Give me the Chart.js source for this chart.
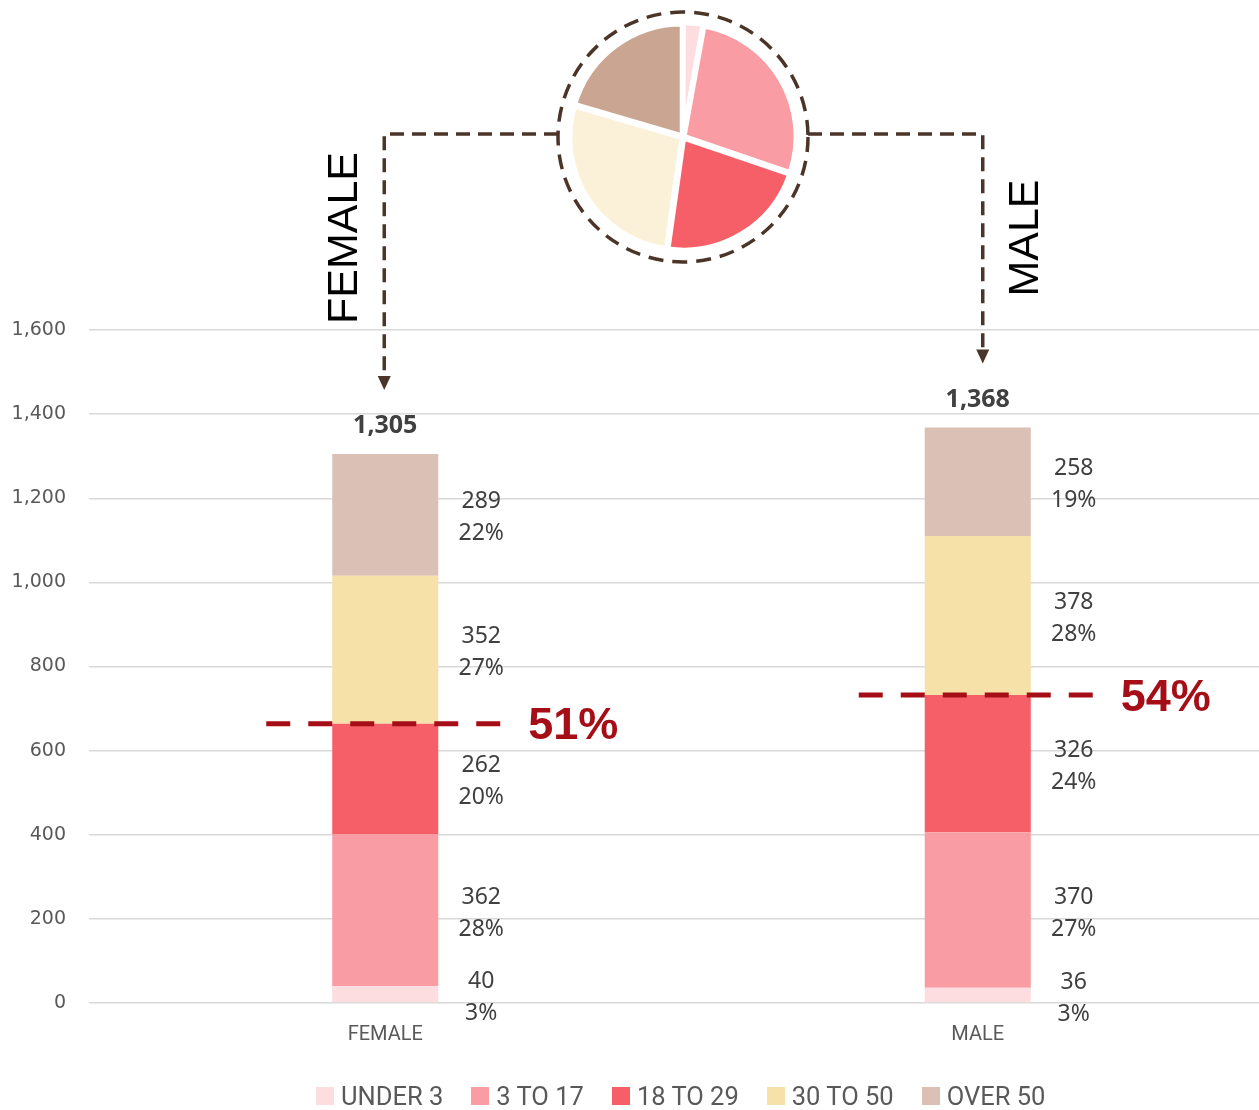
<!DOCTYPE html>
<html>
<head>
<meta charset="utf-8">
<script src="https://cdn.jsdelivr.net/npm/chart.js@4.4.1/dist/chart.umd.min.js"></script>
<style>
  body { margin: 0; background: #fff; overflow: hidden; width: 1259px; height: 1110px; position: relative; }
  #wrap { position: absolute; left: 0; top: 0; width: 1274px; height: 1110px; }
  #pieWrap { position: absolute; left: 553px; top: 7px; width: 260px; height: 260px; }
  #legend { position: absolute; top: 1081px; left: 316px; display: flex; font-family: Roboto, sans-serif; font-size: 25.5px; color: #595959; white-space: nowrap; }
  .item { display: flex; align-items: center; margin-right: 28px; }
  .box { width: 18px; height: 18px; margin-right: 7px; }
</style>
</head>
<body>
<div id="wrap"><canvas id="bars" width="1274" height="1110"></canvas></div>
<div id="pieWrap"><canvas id="pie" width="260" height="260"></canvas></div>
<div id="legend"></div>
<script>
const categories = ['FEMALE', 'MALE'];
const ageGroups = ['UNDER 3', '3 TO 17', '18 TO 29', '30 TO 50', 'OVER 50'];
const under3 = [40, 36];
const age3to17 = [362, 370];
const age18to29 = [262, 326];
const age30to50 = [352, 378];
const over50 = [289, 258];
const yMax = 1600;
const yStep = 200;

const barColors = ['#FDDDE0', '#F99CA3', '#F75F68', '#F6E1A9', '#DBC1B5'];
const pieColors = ['#FDDDE0', '#F99CA3', '#F75F68', '#FBF0D8', '#C9A592'];
const lineBrown = '#4B3428';
const darkRed = '#A50E16';
const textGray = '#404040';

const series = [under3, age3to17, age18to29, age30to50, over50];
const totals = categories.map((c, i) => series.reduce((s, arr) => s + arr[i], 0));
// people under 30 = first three groups
const under30 = categories.map((c, i) => under3[i] + age3to17[i] + age18to29[i]);
const pieTotals = series.map(arr => arr.reduce((a, b) => a + b, 0));

// pie placement on the page
const pieCx = 683, pieCy = 137, ringR = 125;

const fmt = n => n.toLocaleString('en-US');

const labelsPlugin = {
  id: 'segLabels',
  afterDatasetsDraw(chart) {
    const ctx = chart.ctx;
    const yScale = chart.scales.y;
    ctx.save();
    ctx.textAlign = 'center';
    ctx.textBaseline = 'middle';
    ctx.fillStyle = textGray;
    ctx.font = '23px "Noto Sans", sans-serif';
    chart.data.datasets.forEach((ds, d) => {
      chart.getDatasetMeta(d).data.forEach((bar, i) => {
        const cy = (bar.y + bar.base) / 2 + 3;
        const v = ds.data[i];
        ctx.fillText(fmt(v), bar.x + 96, cy - 16);
        ctx.fillText(Math.round(v / totals[i] * 100) + '%', bar.x + 96, cy + 16);
      });
    });

    const topMeta = chart.getDatasetMeta(chart.data.datasets.length - 1);
    topMeta.data.forEach((bar, i) => {
      ctx.font = 'bold 25px "Noto Sans", sans-serif';
      ctx.fillStyle = textGray;
      ctx.textAlign = 'center';
      ctx.fillText(fmt(totals[i]), bar.x, bar.y - 28);

      // under-30 share marker
      const yy = yScale.getPixelForValue(under30[i]);
      ctx.strokeStyle = darkRed;
      ctx.lineWidth = 5;
      ctx.setLineDash([24, 18]);
      ctx.beginPath();
      ctx.moveTo(bar.x - 119, yy);
      ctx.lineTo(bar.x + 117, yy);
      ctx.stroke();
      ctx.setLineDash([]);
      ctx.fillStyle = darkRed;
      ctx.font = 'bold 45px "Liberation Sans", Arial, sans-serif';
      ctx.textAlign = 'left';
      ctx.fillText(Math.round(under30[i] / totals[i] * 100) + '%', bar.x + 143, yy + 3);

      // connector from the pie ring down to the bar
      const side = i === 0 ? -1 : 1;
      const cx = bar.x + (i === 0 ? -1 : 5);
      const tipY = bar.y - 64;
      const ly = pieCy - 3;
      ctx.strokeStyle = lineBrown;
      ctx.lineWidth = 3.5;
      ctx.setLineDash([14, 8]);
      ctx.beginPath();
      ctx.moveTo(pieCx + side * ringR, ly);
      ctx.lineTo(cx, ly);
      ctx.lineTo(cx, tipY - 12);
      ctx.stroke();
      ctx.setLineDash([]);
      ctx.fillStyle = lineBrown;
      ctx.beginPath();
      ctx.moveTo(cx - 6.5, tipY - 14);
      ctx.lineTo(cx + 6.5, tipY - 14);
      ctx.lineTo(cx, tipY);
      ctx.closePath();
      ctx.fill();

      // rotated gender caption
      ctx.save();
      ctx.translate(bar.x + (i === 0 ? -40 : 48), 238);
      ctx.rotate(-Math.PI / 2);
      ctx.fillStyle = '#000';
      ctx.font = '43px "Liberation Sans", Arial, sans-serif';
      ctx.textAlign = 'center';
      ctx.textBaseline = 'middle';
      ctx.fillText(categories[i], 0, 0);
      ctx.restore();
    });
    ctx.restore();
  }
};

new Chart(document.getElementById('bars'), {
  type: 'bar',
  data: {
    labels: categories,
    datasets: ageGroups.map((name, k) => ({
      label: name,
      data: series[k],
      backgroundColor: barColors[k],
      borderWidth: 0,
      barPercentage: 0.179,
      categoryPercentage: 1
    }))
  },
  options: {
    responsive: false,
    animation: false,
    devicePixelRatio: 1,
    layout: { padding: { top: 330, bottom: 47, left: 0, right: 0 } },
    plugins: { legend: { display: false }, tooltip: { enabled: false } },
    scales: {
      x: {
        stacked: true,
        grid: { display: false },
        border: { display: false },
        ticks: { color: '#595959', font: { family: 'Roboto', size: 20 }, padding: 12 },
        afterFit(scale) { scale.height = 60; }
      },
      y: {
        stacked: true,
        min: 0,
        max: yMax,
        ticks: {
          stepSize: yStep,
          color: '#595959',
          font: { family: 'DejaVu Sans', size: 19 },
          padding: 23,
          callback: v => fmt(v)
        },
        grid: { color: '#D9D9D9', lineWidth: 1.5, drawTicks: false },
        border: { display: false },
        afterFit(scale) { scale.width = 89; }
      }
    }
  },
  plugins: [labelsPlugin]
});

const ringPlugin = {
  id: 'ring',
  afterDraw(chart) {
    const ctx = chart.ctx;
    const arc = chart.getDatasetMeta(0).data[0];
    ctx.save();
    ctx.strokeStyle = lineBrown;
    ctx.lineWidth = 3.5;
    ctx.setLineDash([15, 9]);
    ctx.beginPath();
    ctx.arc(arc.x, arc.y, ringR, 0, Math.PI * 2);
    ctx.stroke();
    ctx.restore();
  }
};

new Chart(document.getElementById('pie'), {
  type: 'pie',
  data: {
    labels: ageGroups,
    datasets: [{
      data: pieTotals,
      backgroundColor: pieColors,
      borderColor: '#fff',
      borderWidth: 5,
      offset: 5
    }]
  },
  options: {
    responsive: false,
    animation: false,
    devicePixelRatio: 1,
    layout: { padding: 13 },
    plugins: { legend: { display: false }, tooltip: { enabled: false } }
  },
  plugins: [ringPlugin]
});

const legend = document.getElementById('legend');
ageGroups.forEach((name, k) => {
  const item = document.createElement('div');
  item.className = 'item';
  item.innerHTML = `<span class="box" style="background:${barColors[k]}"></span><span>${name}</span>`;
  legend.appendChild(item);
});
</script>
</body>
</html>
